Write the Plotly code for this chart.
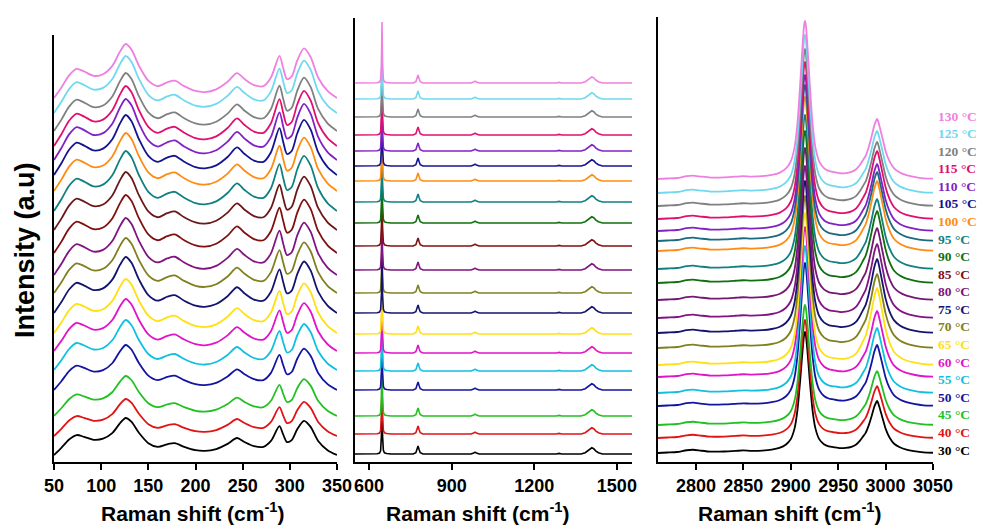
import plotly.graph_objects as go

# ---------------- data ----------------
temps = [30, 40, 45, 50, 55, 60, 65, 70, 75, 80, 85, 90, 95, 100, 105, 110, 115, 120, 125, 130]
colors = ["#000000", "#e01414", "#22c022", "#1414a0", "#10c0e0", "#e014c8", "#ffe012",
          "#808020", "#141470", "#801480", "#801010", "#107010", "#108080", "#ff8c12",
          "#141490", "#8222c4", "#e01070", "#808080", "#70d8f0", "#f080e0"]

# Panel 1 (50-350 cm-1): normalised profile and per-temperature amplitude / stacking offset
p1_x = [50, 58, 66, 74, 82, 92, 102, 112, 120, 126, 132, 140, 150, 160, 170, 178, 188, 200,
        210, 222, 234, 244, 252, 262, 272, 280, 289, 293, 297, 302, 308, 315, 322, 330, 340, 350]
p1_shape = [0, 0.2, 0.42, 0.54, 0.49, 0.41, 0.44, 0.6, 0.86, 1.0, 0.9, 0.6, 0.32, 0.22, 0.29,
            0.32, 0.22, 0.13, 0.11, 0.16, 0.3, 0.46, 0.35, 0.24, 0.22, 0.38, 0.78, 0.55, 0.35,
            0.4, 0.7, 0.92, 0.76, 0.38, 0.13, 0]
p1_amp = [37, 37, 40, 45, 50, 52, 54, 55, 56, 57, 58, 58, 60, 58, 60, 61, 60, 58, 57, 54]
p1_offset = [7, 26, 46, 72, 92, 111, 129, 169, 149, 187, 209, 232, 251, 271, 287, 302, 316, 331, 349, 364]

# Panel 2 (550-1555 cm-1)
p2_x = [549, 600, 630, 638, 642, 645, 647, 649, 652, 656, 664, 680, 760, 770, 774, 778, 782,
        786, 796, 970, 980, 985, 990, 1000, 1280, 1290, 1300, 1370, 1385, 1395, 1402, 1409,
        1416, 1423, 1433, 1448, 1555]
p2_shape = [0, 0, 0.005, 0.015, 0.05, 0.3, 1.0, 0.3, 0.06, 0.02, 0.008, 0, 0, 0.02, 0.07, 0.13,
            0.07, 0.02, 0, 0, 0.015, 0.03, 0.015, 0, 0, 0.01, 0, 0, 0.02, 0.05, 0.085, 0.1,
            0.085, 0.05, 0.02, 0, 0]
p2_amp = [62, 62, 62, 62, 62, 62, 62, 62, 62, 62, 62, 62, 62, 62, 62, 62, 62, 62, 62, 61]
p2_offset = [8, 28, 46, 72, 91, 109, 128, 169, 149, 192, 216, 239, 260, 281, 296, 311, 327, 345, 363, 379]

# Panel 3 (2760-3050 cm-1): two bands + weak background
p3_x = [2760, 2770, 2780, 2790, 2797, 2805, 2815, 2830, 2842, 2850, 2858, 2870, 2880, 2888,
        2895, 2900, 2904, 2907, 2910, 2912, 2914, 2915, 2916, 2918, 2920, 2923, 2926, 2930,
        2935, 2940, 2946, 2952, 2958, 2964, 2969, 2973, 2976, 2979, 2982, 2985, 2988, 2990,
        2991, 2992, 2994, 2997, 3000, 3004, 3009, 3015, 3022, 3030, 3040, 3050]
p3_main = [0, 0, 0, 0.002, 0.002, 0.003, 0.003, 0.004, 0.005, 0.005, 0.006, 0.012, 0.02, 0.03,
           0.055, 0.1, 0.19, 0.34, 0.6, 0.8, 0.97, 1.0, 0.97, 0.8, 0.6, 0.34, 0.19, 0.1,
           0.055, 0.035, 0.025, 0.018, 0.013, 0.01, 0.008, 0.007, 0.006, 0.005, 0.005, 0.004,
           0.004, 0.004, 0.004, 0.004, 0.003, 0.003, 0.003, 0.002, 0.002, 0.002, 0.001, 0.001, 0, 0]
p3_second = [0, 0, 0, 0, 0, 0, 0, 0, 0, 0, 0, 0, 0, 0, 0, 0, 0, 0, 0, 0, 0, 0, 0, 0, 0, 0, 0, 0,
             0.005, 0.01, 0.015, 0.025, 0.04, 0.07, 0.12, 0.2, 0.28, 0.36, 0.5, 0.68, 0.88, 0.97,
             1.0, 0.97, 0.85, 0.65, 0.45, 0.28, 0.15, 0.08, 0.045, 0.025, 0.012, 0.005]
p3_bg = [0, 0.5, 1, 2.5, 3, 2, 1, 1, 1.5, 2, 1.5, 1, 1, 1.5, 2, 2, 2, 2, 2, 2, 2, 2, 2, 2, 2, 2,
         2, 2, 2, 2, 2, 1.5, 1.5, 1.5, 1.5, 1.5, 1.5, 1.5, 1.5, 1.5, 1.5, 1.5, 1.5, 1.5, 1.5,
         1.5, 1.5, 1.5, 1.5, 1.5, 1, 0.5, 0, 0]
p3_main_amp = [119, 116, 118, 141, 145, 148, 150, 150, 150, 150, 150, 150, 152, 152, 154, 154, 155, 155, 156, 156]
p3_second_amp = [50, 50, 52, 59, 63, 64, 75, 72, 72, 72, 70, 70, 68, 68, 67, 65, 66, 62, 60, 58]
p3_offset = [9, 24, 37, 56, 69, 85, 97, 114, 129, 144, 162, 179, 193, 211, 221, 231, 243, 256, 269, 283]

legend_labels = [f"{t} °C" for t in temps]
x_title = "Raman shift (cm<sup>-1</sup>)"
y_title = "Intensity (a.u)"

# panel-specific colour deviations seen in the original figure
p1_color_override = {90: "#6a1818"}
p3_color_override = {85: "#741874", 105: "#1a6a80"}

# ---------------- figure ----------------
W, H = 981, 526
fig = go.Figure()

for i, t in enumerate(temps):
    c1 = p1_color_override.get(t, colors[i])
    fig.add_trace(go.Scatter(
        x=p1_x, y=[p1_offset[i] + p1_amp[i] * s for s in p1_shape],
        mode="lines", line=dict(color=c1, width=1.8, shape="spline", smoothing=0.8),
        xaxis="x", yaxis="y", showlegend=False, hoverinfo="skip"))
    fig.add_trace(go.Scatter(
        x=p2_x, y=[p2_offset[i] + p2_amp[i] * s for s in p2_shape],
        mode="lines", line=dict(color=colors[i], width=1.6),
        xaxis="x2", yaxis="y2", showlegend=False, hoverinfo="skip"))
    c3 = p3_color_override.get(t, colors[i])
    fig.add_trace(go.Scatter(
        x=p3_x,
        y=[p3_offset[i] + p3_main_amp[i] * m + p3_second_amp[i] * s + b
           for m, s, b in zip(p3_main, p3_second, p3_bg)],
        mode="lines", line=dict(color=c3, width=1.8, shape="spline", smoothing=0.5),
        xaxis="x3", yaxis="y3", showlegend=False, hoverinfo="skip"))


def px(x):
    return x / W


def py(y):
    return 1 - y / H


tickfont = dict(family="Arial", size=18, color="black", weight="bold")
xcommon = dict(showline=True, linewidth=2, linecolor="black", ticks="outside", ticklen=6,
               tickwidth=2, tickcolor="black", showgrid=False, zeroline=False,
               tickfont=tickfont, mirror=False, automargin=False)
ycommon = dict(showline=True, linewidth=2, linecolor="black", ticks="", showticklabels=False,
               showgrid=False, zeroline=False, automargin=False)

bottom = 462
fig.update_layout(
    width=W, height=H, autosize=False, margin=dict(l=0, r=0, t=0, b=0, pad=0),
    paper_bgcolor="white", plot_bgcolor="white",
    xaxis=dict(domain=[px(54), px(337)], range=[50, 350], tickvals=[50, 100, 150, 200, 250, 300, 350],
               anchor="y", **xcommon),
    yaxis=dict(domain=[py(bottom), py(35)], range=[0, bottom - 35], anchor="x", **ycommon),
    xaxis2=dict(domain=[px(355), px(632)], range=[549, 1555], tickvals=[600, 900, 1200, 1500],
                anchor="y2", **xcommon),
    yaxis2=dict(domain=[py(bottom), py(18)], range=[0, bottom - 18], anchor="x2", **ycommon),
    xaxis3=dict(domain=[px(658), px(933)], range=[2760, 3050],
                tickvals=[2800, 2850, 2900, 2950, 3000, 3050], anchor="y3", **xcommon),
    yaxis3=dict(domain=[py(bottom), py(17)], range=[0, bottom - 17], anchor="x3", **ycommon),
)

annotations = []
for cx in (192, 477, 789):
    annotations.append(dict(x=px(cx), y=py(512), xref="paper", yref="paper", text=x_title,
                            showarrow=False, xanchor="center", yanchor="middle",
                            font=dict(family="Arial", size=21, color="black", weight="bold")))
annotations.append(dict(x=px(25), y=py(250), xref="paper", yref="paper", text=y_title,
                        showarrow=False, textangle=-90, xanchor="center", yanchor="middle",
                        font=dict(family="Arial", size=27, color="black", weight="bold")))
n = len(temps)
for k, (lab, col) in enumerate(zip(legend_labels, colors)):
    ypix = 450 - k * (450 - 116) / (n - 1)
    annotations.append(dict(x=px(936), y=py(ypix), xref="paper", yref="paper", text=lab,
                            showarrow=False, xanchor="left", yanchor="middle",
                            font=dict(family="Liberation Serif", size=13.5, color=col, weight="bold")))
fig.update_layout(annotations=annotations)

post = """
(function(){
  var gd = document.getElementById('{plot_id}');
  function fix(){
    document.documentElement.style.margin='0';
    document.documentElement.style.padding='0';
    document.documentElement.style.overflow='hidden';
    document.body.style.margin='0';
    document.body.style.padding='0';
    document.body.style.overflow='hidden';
    gd.style.width='981px'; gd.style.height='526px';
    if (gd._fullLayout && (gd._fullLayout.width !== 981 || gd._fullLayout.height !== 526)) {
      Plotly.relayout(gd, {width: 981, height: 526, autosize: false});
    }
  }
  fix();
  window.addEventListener('resize', function(){ setTimeout(fix, 0); });
  setTimeout(fix, 50);
})();
"""

fig.write_html("out.html",
               config={"displayModeBar": False, "responsive": False},
               post_script=post)
